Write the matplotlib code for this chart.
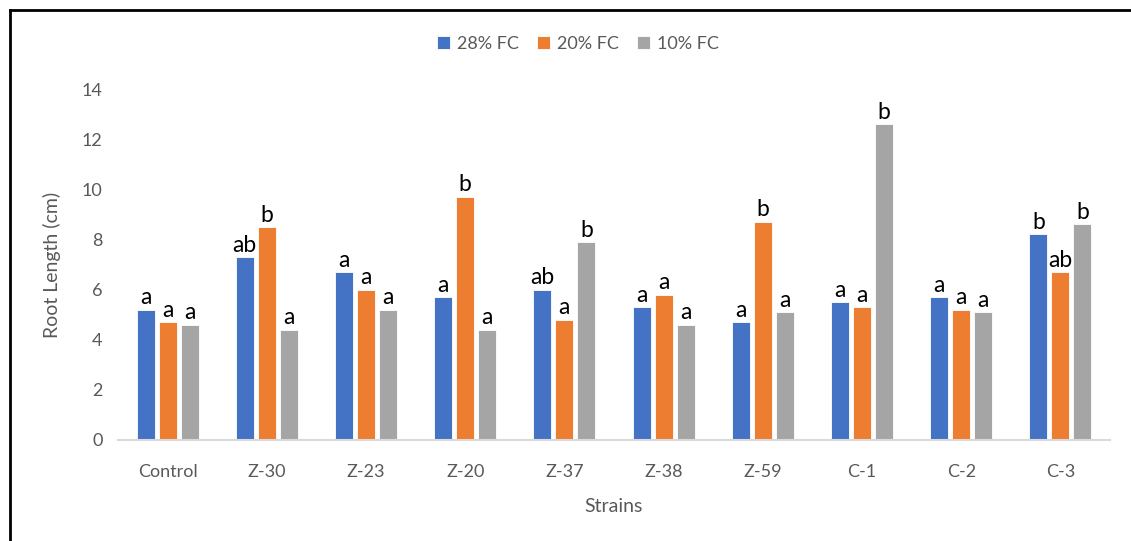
import matplotlib
matplotlib.use("Agg")
import matplotlib.pyplot as plt
from matplotlib.lines import Line2D
import numpy as np

strains = ["Control", "Z-30", "Z-23", "Z-20", "Z-37", "Z-38", "Z-59", "C-1", "C-2", "C-3"]
series_names = ["28% FC", "20% FC", "10% FC"]
fc28 = [5.2, 7.3, 6.7, 5.7, 6.0, 5.3, 4.7, 5.5, 5.7, 8.2]
fc20 = [4.7, 8.5, 6.0, 9.7, 4.8, 5.8, 8.7, 5.3, 5.2, 6.7]
fc10 = [4.6, 4.4, 5.2, 4.4, 7.9, 4.6, 5.1, 12.6, 5.1, 8.6]
letters28 = ["a", "ab", "a", "a", "ab", "a", "a", "a", "a", "b"]
letters20 = ["a", "b", "a", "b", "a", "a", "b", "a", "a", "ab"]
letters10 = ["a", "a", "a", "a", "b", "a", "a", "b", "a", "b"]
colors = ["#4472C4", "#ED7D31", "#A5A5A5"]

plt.rcParams["font.family"] = ["Lato", "DejaVu Sans"]

W, H = 1131, 541
fig = plt.figure(figsize=(W / 100, H / 100), dpi=100)
ax = fig.add_axes([118 / W, (H - 440) / H, (1110 - 118) / W, 351 / H])

x = np.arange(len(strains))
width = 0.18
offsets = [-0.222, 0.0, 0.222]
for vals, labs, col, off, name in zip([fc28, fc20, fc10],
                                      [letters28, letters20, letters10],
                                      colors, offsets, series_names):
    bars = ax.bar(x + off, vals, width=width, color=col, label=name,
                  edgecolor="white", linewidth=0.6, zorder=2)
    ax.bar_label(bars, labels=labs, padding=1, fontsize=16.5, color="black")

ax.set_xlim(-0.5, len(strains) - 0.5)
ax.set_ylim(0, 14)
ax.set_yticks(np.arange(0, 15, 2))
ax.set_xticks(x)
ax.set_xticklabels(strains)
ax.tick_params(axis="both", length=0, labelsize=13, colors="#595959")
ax.tick_params(axis="x", pad=17)
ax.tick_params(axis="y", pad=11)
for s in ["top", "right", "left"]:
    ax.spines[s].set_visible(False)
ax.spines["bottom"].set_color("#D9D9D9")
ax.spines["bottom"].set_linewidth(1.5)

ax.set_xlabel("Strains", fontsize=14, color="#595959", labelpad=13)
ax.set_ylabel("Root Length (cm)", fontsize=14, color="#595959", labelpad=15)

leg = fig.legend(loc="center", bbox_to_anchor=(578 / W, 1 - 44 / H), ncol=3,
                 frameon=False, fontsize=13, handlelength=0.7, handleheight=0.7,
                 columnspacing=1.0, handletextpad=0.4)
for t in leg.get_texts():
    t.set_color("#595959")

# outer frame (top and left edges)
fig.add_artist(Line2D([9.5 / W, 1.0], [1 - 9.5 / H, 1 - 9.5 / H], color="black", lw=2,
                      transform=fig.transFigure))
fig.add_artist(Line2D([9.5 / W, 9.5 / W], [0, 1 - 9.5 / H], color="black", lw=2,
                      transform=fig.transFigure))

fig.savefig("out.png", dpi=100)
